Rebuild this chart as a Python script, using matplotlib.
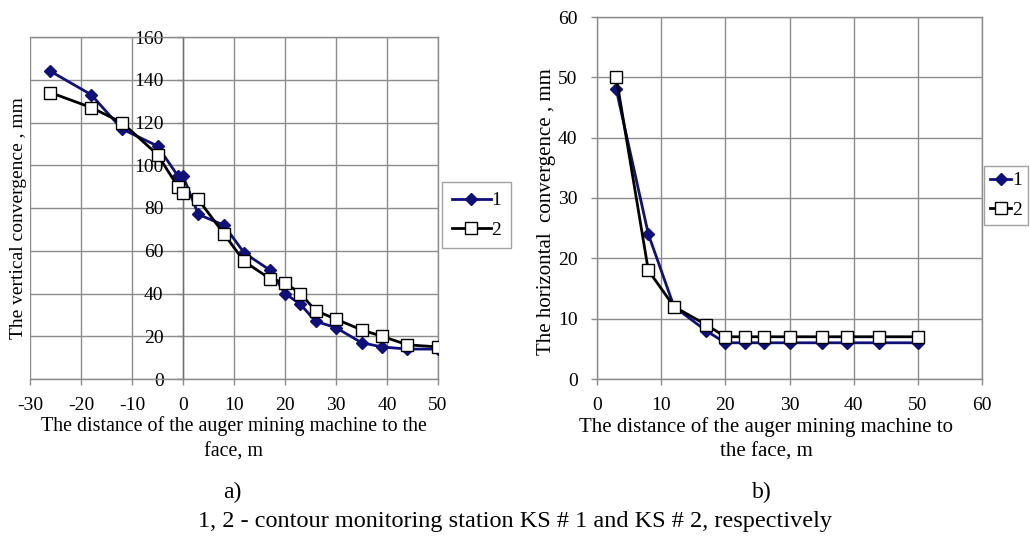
import matplotlib
matplotlib.use("Agg")
import matplotlib.pyplot as plt
from matplotlib.lines import Line2D

plt.rcParams['font.family'] = ['Liberation Serif', 'DejaVu Serif']
plt.rcParams['axes.unicode_minus'] = False

# ---- data: panel a) vertical convergence ----
xa = [-26, -18, -12, -5, -1, 0, 3, 8, 12, 17, 20, 23, 26, 30, 35, 39, 44, 50]
ya1 = [144, 133, 117, 109, 95, 95, 77, 72, 59, 51, 40, 35, 27, 24, 17, 15, 14, 14]
ya2 = [134, 127, 120, 105, 90, 87, 84, 68, 55, 47, 45, 40, 32, 28, 23, 20, 16, 15]

# ---- data: panel b) horizontal convergence ----
xb = [3, 8, 12, 17, 20, 23, 26, 30, 35, 39, 44, 50]
yb1 = [48, 24, 12, 8, 6, 6, 6, 6, 6, 6, 6, 6]
yb2 = [50, 18, 12, 9, 7, 7, 7, 7, 7, 7, 7, 7]

series_labels = ['1', '2']
xticks_a = [-30, -20, -10, 0, 10, 20, 30, 40, 50]
yticks_a = [0, 20, 40, 60, 80, 100, 120, 140, 160]
xticks_b = [0, 10, 20, 30, 40, 50, 60]
yticks_b = [0, 10, 20, 30, 40, 50, 60]

W, H = 1030, 544
fig = plt.figure(figsize=(W / 100, H / 100), dpi=100)

BLUE = '#10107a'
GRID = '#8c8c8c'
FS = 14

def fx(p):
    return p / W

def fy(p):
    return 1 - p / H

def style(ax):
    ax.grid(True, color=GRID, linewidth=1.0)
    ax.set_axisbelow(True)
    for s in ax.spines.values():
        s.set_color(GRID)
        s.set_linewidth(1.0)
    ax.tick_params(axis='both', colors=GRID, labelcolor='black', labelsize=FS,
                   length=4, width=1.0, direction='out')
    ax.tick_params(axis='x', pad=9)
    ax.tick_params(axis='y', pad=10)

def plot_series(ax, x, y1, y2):
    ax.plot(x, y1, color=BLUE, lw=2.0, marker='D', ms=6.5, mfc=BLUE, mec=BLUE,
            label=series_labels[0], zorder=3)
    ax.plot(x, y2, color='black', lw=2.0, marker='s', ms=9, mfc='white', mec='black',
            mew=1.0, label=series_labels[1], zorder=4)

def legend_at(x, y, hl, bp):
    fig.legend(handles=[Line2D([], [], color=BLUE, lw=2.0, marker='D', ms=6, mfc=BLUE, mec=BLUE),
                        Line2D([], [], color='black', lw=2.0, marker='s', ms=8, mfc='white', mec='black')],
               labels=series_labels, loc='upper left', bbox_to_anchor=(fx(x), fy(y)),
               fontsize=FS, frameon=True, fancybox=False, edgecolor=GRID, handlelength=hl,
               handletextpad=0.05, borderpad=bp, labelspacing=0.6, borderaxespad=0)

# ---- panel a ----
axa = fig.add_axes([fx(30), fy(379), fx(438 - 30), (379 - 37) / H])
plot_series(axa, xa, ya1, ya2)
axa.set_xlim(-30, 50)
axa.set_ylim(0, 160)
axa.set_xticks(xticks_a)
axa.set_yticks(yticks_a)
style(axa)
axa.spines['left'].set_position(('data', 0))
axa.spines['left'].set_color('#707070')
fig.text(fx(19), fy(218), 'The vertical convergence , mm', rotation=90,
         ha='center', va='center', fontsize=FS)
fig.text(fx(234), fy(439), 'The distance of the auger mining machine to the\nface, m',
         ha='center', va='center', fontsize=14.4, linespacing=1.45)
legend_at(442, 182, 2.0, 0.5)

# ---- panel b ----
axb = fig.add_axes([fx(597), fy(379), fx(982 - 597), (379 - 17) / H])
plot_series(axb, xb, yb1, yb2)
axb.set_xlim(0, 60)
axb.set_ylim(0, 60)
axb.set_xticks(xticks_b)
axb.set_yticks(yticks_b)
style(axb)
fig.text(fx(546), fy(212), 'The horizontal  convergence , mm', rotation=90,
         ha='center', va='center', fontsize=15)
fig.text(fx(766), fy(439), 'The distance of the auger mining machine to\nthe face, m',
         ha='center', va='center', fontsize=15, linespacing=1.4)
legend_at(984, 166, 1.1, 0.3)

fig.text(fx(232), fy(492), 'a)', ha='center', va='center', fontsize=17)
fig.text(fx(762), fy(492), 'b)', ha='center', va='center', fontsize=17)
fig.text(fx(515), fy(521), '1, 2 - contour monitoring station KS # 1 and KS # 2, respectively',
         ha='center', va='center', fontsize=17.5)

fig.savefig('out.png', dpi=100)
